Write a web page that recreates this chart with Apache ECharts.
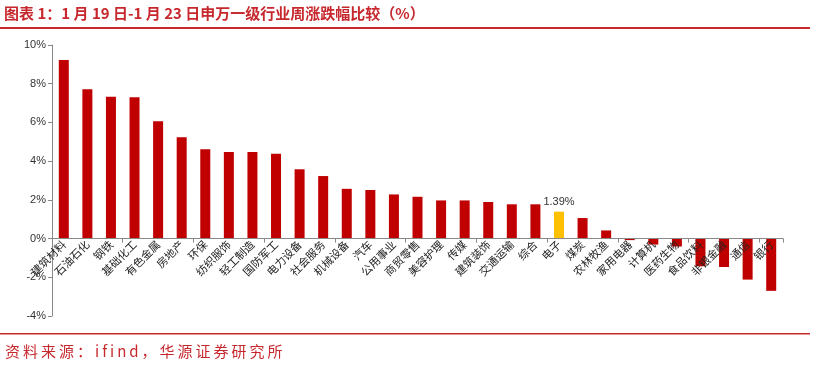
<!DOCTYPE html>
<html><head><meta charset="utf-8">
<script src="https://cdn.jsdelivr.net/npm/echarts@6/dist/echarts.min.js"></script>
<style>html,body{margin:0;padding:0;background:#fff}#wrap{position:relative;width:815px;height:366px}#c{width:815px;height:366px}
#src{position:absolute;left:5px;top:341px;font:15px "Noto Sans CJK SC";letter-spacing:3px;color:#C7282D;white-space:nowrap;line-height:20px}</style>
</head><body><div id="wrap"><div id="c"></div><div id="src">资料来源：ifind，华源证券研究所</div></div>
<script>
const categories = ['建筑材料','石油石化','钢铁','基础化工','有色金属','房地产','环保','纺织服饰','轻工制造','国防军工','电力设备','社会服务','机械设备','汽车','公用事业','商贸零售','美容护理','传媒','建筑装饰','交通运输','综合','电子','煤炭','农林牧渔','家用电器','计算机','医药生物','食品饮料','非银金融','通信','银行'];
const values = [9.22,7.71,7.33,7.30,6.06,5.23,4.61,4.47,4.47,4.38,3.58,3.23,2.57,2.51,2.28,2.16,1.97,1.97,1.89,1.77,1.77,1.39,1.06,0.42,-0.08,-0.31,-0.41,-1.43,-1.47,-2.12,-2.70];
const highlight = '电子';
const yTicks = [-4,-2,0,2,4,6,8,10];

const chart = echarts.init(document.getElementById('c'));
const red = '#C00000', gold = '#FFC000', titleRed = '#C7282D';
const labelStyle = {rotate: 45, interval: 0, fontSize: 11, color: '#222', margin: 4, fontFamily: 'Noto Sans CJK SC'};
const option = {
  animation: false,
  graphic: [
    {type:'text', left: 4, top: 6, style:{text:'图表 1：1 月 19 日-1 月 23 日申万一级行业周涨跌幅比较（%）', fill:titleRed, font:'bold 15px "Noto Sans CJK SC"'}},
    {type:'rect', shape:{x:0,y:27,width:810,height:2}, style:{fill:titleRed}},
    {type:'rect', shape:{x:0,y:333,width:810,height:1.5}, style:{fill:titleRed}}
  ],
  grid: {left: 52, right: 32, top: 45, bottom: 50, containLabel: false},
  xAxis: [{
    type: 'category', data: categories, z: 5,
    axisLine: {onZero: true, lineStyle: {color: '#888', width: 1}},
    axisTick: {show: true, alignWithLabel: false, length: 4, lineStyle: {color: '#888'}},
    axisLabel: {show: false}
  }, {
    type: 'category', data: categories, position: 'bottom', offset: 0, zlevel: 1, z: 10,
    axisLine: {show: false, onZero: false}, axisTick: {show: false},
    axisLabel: labelStyle
  }],
  yAxis: {
    type: 'value', min: -4, max: 10, interval: 2,
    axisLine: {show: true, lineStyle: {color: '#888'}},
    axisTick: {show: true, length: 4, lineStyle: {color: '#888'}},
    splitLine: {show: false},
    axisLabel: {formatter: v => yTicks.includes(v) ? v + '%' : '', fontSize: 11, color: '#333', fontFamily: 'Liberation Sans', margin: 6}
  },
  series: [{
    type: 'bar', barWidth: 10, xAxisIndex: 0, z: 1,
    data: values.map((v, i) => ({
      value: v,
      itemStyle: {color: categories[i] === highlight ? gold : red},
      label: categories[i] === highlight ? {show: true, position: 'top', formatter: v + '%', fontSize: 11, color: '#333', fontFamily: 'Liberation Sans', distance: 4} : {show: false}
    }))
  }]
};
chart.setOption(option);
const zeroY = chart.convertToPixel({yAxisIndex: 0}, 0);
const minY = chart.convertToPixel({yAxisIndex: 0}, -4);
chart.setOption({xAxis: [{}, {offset: -(minY - zeroY)}]});
</script></body></html>
